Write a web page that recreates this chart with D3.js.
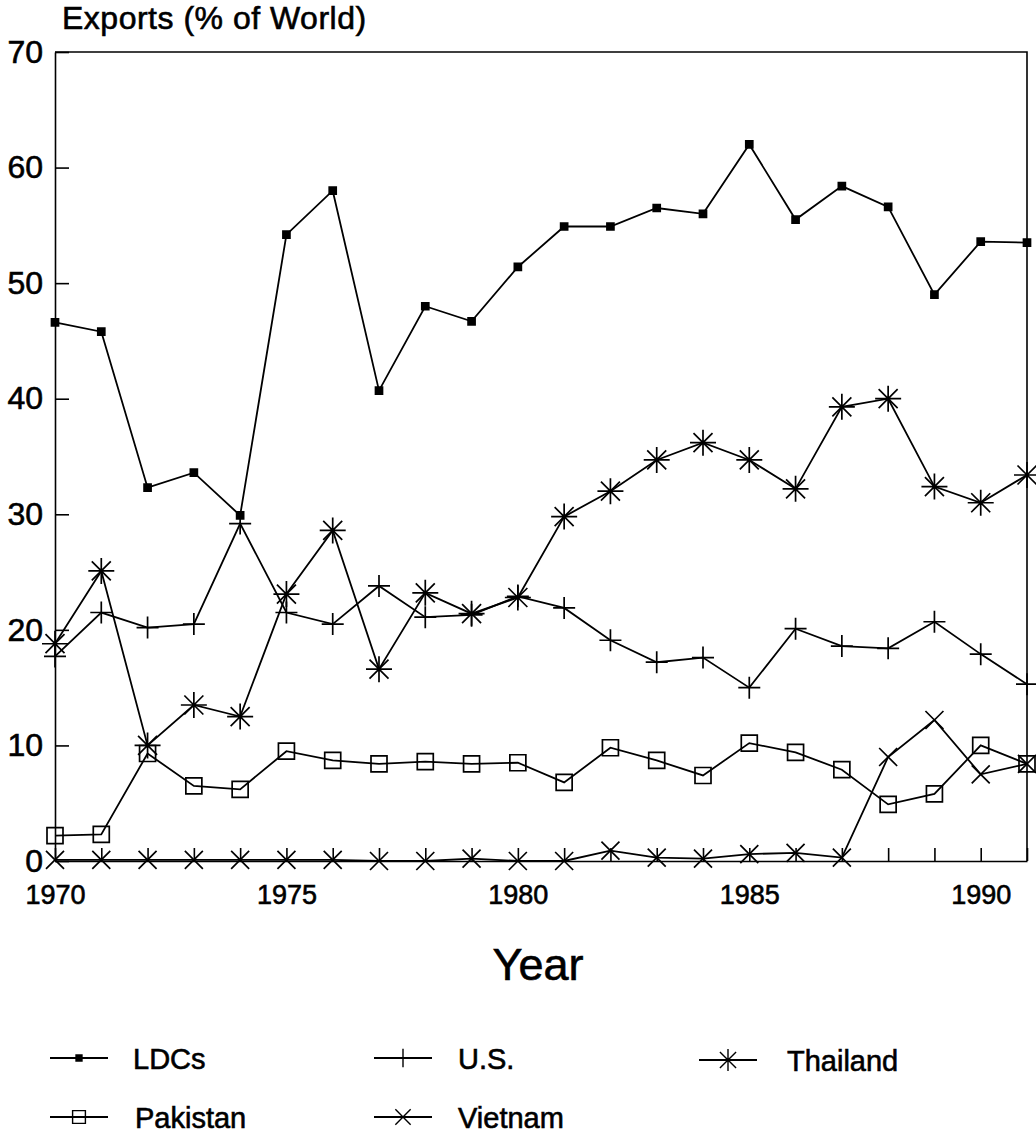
<!DOCTYPE html>
<html>
<head>
	<script src="https://cdn.jsdelivr.net/npm/d3@7"></script>
	<style>
		html, body {
			padding: 0;
			margin: 0;
			background: #fff;
		}
		text {
			font-family: "Liberation Sans", Arial, sans-serif;
			fill: #000;
			stroke: #000;
			stroke-width: 0.6px;
		}
	</style>
</head>
<body>
	<script>
		var width = 1036, height = 1135;

		// data
		var years = d3.range(1970, 1992);
		var ldcs     = [46.6, 45.8, 32.3, 33.6, 29.9, 54.2, 58.0, 40.7, 48.0, 46.7, 51.4,
		                54.9, 54.9, 56.5, 56.0, 62.0, 55.5, 58.4, 56.6, 49.0, 53.6, 53.5];
		var us       = [17.7, 21.5, 20.2, 20.5, 29.2, 21.5, 20.5, 23.8, 21.1, 21.3, 22.9,
		                21.9, 19.1, 17.2, 17.6, 15.0, 20.1, 18.6, 18.4, 20.7, 17.9, 15.3];
		var thailand = [18.8, 25.1, 10.0, 13.5, 12.5, 23.1, 28.6, 16.6, 23.2, 21.4, 22.8,
		                29.8, 32.0, 34.7, 36.2, 34.7, 32.2, 39.3, 40.0, 32.4, 31.0, 33.4];
		var pakistan = [2.2, 2.3, 9.3, 6.5, 6.2, 9.5, 8.7, 8.4, 8.6, 8.4, 8.5,
		                6.8, 9.8, 8.7, 7.4, 10.2, 9.4, 7.9, 4.9, 5.8, 10.0, 8.4];
		var vietnam  = [0.1, 0.1, 0.1, 0.1, 0.1, 0.1, 0.1, 0.0, 0.0, 0.2, 0.0,
		                0.0, 0.9, 0.3, 0.2, 0.6, 0.7, 0.3, 9.0, 12.2, 7.5, 8.4];
		var yTicks = [0, 10, 20, 30, 40, 50, 60, 70];
		var xLabelYears = [1970, 1975, 1980, 1985, 1990];

		var series = [
			{ name: "LDCs",     values: ldcs,     mark: "dot"    },
			{ name: "U.S.",     values: us,       mark: "plus"   },
			{ name: "Thailand", values: thailand, mark: "star"   },
			{ name: "Pakistan", values: pakistan, mark: "square" },
			{ name: "Vietnam",  values: vietnam,  mark: "cross"  }
		];

		// plot box (window.top is taken, so prefix these)
		var plotL = 55, plotR = 1027, plotT = 52, plotB = 861;

		var svg = d3.select('body').append('svg')
			.attr('width', width)
			.attr('height', height);

		var x = d3.scaleLinear().domain([1970, 1991]).range([plotL, plotR]);
		var y = d3.scaleLinear().domain([0, 70]).range([plotB, plotT]);

		/* marker shapes, s = scale for legend */
		var markPath = function(type, s) {
			s = s || 1;
			var p = d3.path();
			if (type == "plus" || type == "star") {
				var a = 11 * s;
				if (type == "star") a = 13 * s;
				p.moveTo(-a, 0); p.lineTo(a, 0);
				p.moveTo(0, -a); p.lineTo(0, a);
			}
			if (type == "star") {
				var d = 9.5 * s;
				p.moveTo(-d, -d); p.lineTo(d, d);
				p.moveTo(-d, d); p.lineTo(d, -d);
			}
			if (type == "cross") {
				var c = 9 * s;
				p.moveTo(-c, -c); p.lineTo(c, c);
				p.moveTo(-c, c); p.lineTo(c, -c);
			}
			if (type == "square") {
				var h = 8 * s;
				p.rect(-h, -h, 2 * h, 2 * h);
			}
			if (type == "dot") {
				p.rect(-3.5 * s, -3.5 * s, 7 * s, 7 * s);
			}
			return p.toString();
		}

		// frame
		svg.append("path")
			.attr("d", "M" + plotL + "," + plotT + "H" + plotR + "V" + plotB)
			.attr("fill", "none")
			.attr("stroke", "#000")
			.attr("stroke-width", 1.6);

		// y axis, ticks point inward
		var yAxis = svg.append("g")
			.attr("transform", "translate(" + plotL + ",0)")
			.call(d3.axisLeft(y).tickValues(yTicks).tickSize(-14).tickSizeOuter(0).tickPadding(12));
		yAxis.selectAll("text").style("font-size", "32px").attr("font-family", null);
		yAxis.selectAll("line, path").attr("stroke-width", 1.6);

		// x axis, a tick every year, labels every five
		var xAxis = svg.append("g")
			.attr("transform", "translate(0," + plotB + ")")
			.call(d3.axisBottom(x).tickValues(years).tickSize(-13).tickSizeOuter(0).tickPadding(24)
				.tickFormat(function(d) { return xLabelYears.indexOf(d) >= 0 ? d : ""; }));
		xAxis.selectAll("text").style("font-size", "27px").attr("font-family", null);
		xAxis.selectAll("line, path").attr("stroke-width", 1.6);

		var line = d3.line()
			.x(function(d, i) { return x(years[i]); })
			.y(function(d) { return y(d); });

		series.forEach(function(s) {
			svg.append("path")
				.datum(s.values)
				.attr("d", line)
				.attr("fill", "none")
				.attr("stroke", "#000")
				.attr("stroke-width", 1.8);

			svg.append("g").selectAll("path")
				.data(s.values)
				.join("path")
				.attr("transform", function(d, i) { return "translate(" + x(years[i]) + "," + y(d) + ")"; })
				.attr("d", markPath(s.mark))
				.attr("fill", s.mark == "dot" ? "#000" : "none")
				.attr("stroke", "#000")
				.attr("stroke-width", 1.7);
		});

		// titles
		svg.append("text")
			.attr("x", 62)
			.attr("y", 29)
			.style("font-size", "32px")
			.style("letter-spacing", "0.5px")
			.text("Exports (% of World)");

		svg.append("text")
			.attr("x", 538)
			.attr("y", 980)
			.attr("text-anchor", "middle")
			.style("font-size", "45px")
			.text("Year");

		// legend
		var legendPos = [
			{ lx: 79,  ty: 1058, tx: 133 },
			{ lx: 403, ty: 1058, tx: 458 },
			{ lx: 728, ty: 1060, tx: 787 },
			{ lx: 79,  ty: 1117, tx: 135 },
			{ lx: 403, ty: 1117, tx: 458 }
		];

		var legend = svg.append("g").selectAll("g")
			.data(series)
			.join("g")
			.attr("transform", function(d, i) { return "translate(" + legendPos[i].lx + "," + legendPos[i].ty + ")"; });

		legend.append("line")
			.attr("x1", -29).attr("x2", 29)
			.attr("stroke", "#000")
			.attr("stroke-width", 1.8);

		legend.append("path")
			.attr("d", function(d) { return markPath(d.mark, d.mark == "square" ? 0.8 : 0.85); })
			.attr("fill", function(d) { return d.mark == "dot" ? "#000" : "none"; })
			.attr("stroke", "#000")
			.attr("stroke-width", 1.4);

		legend.append("text")
			.attr("x", function(d, i) { return legendPos[i].tx - legendPos[i].lx; })
			.attr("y", 11)
			.style("font-size", "29px")
			.text(function(d) { return d.name; });
	</script>
</body>
</html>
